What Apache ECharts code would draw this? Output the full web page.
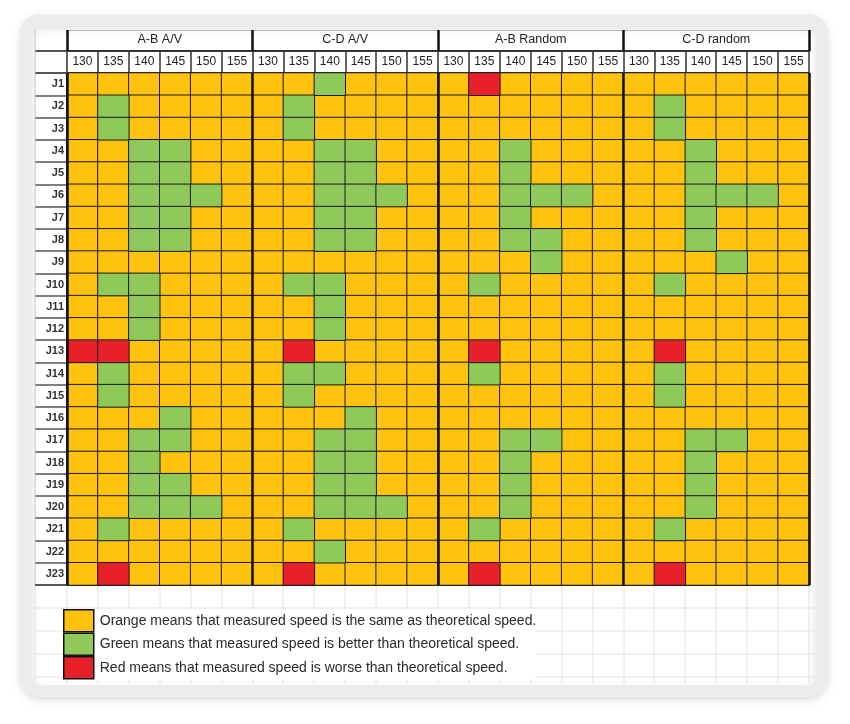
<!DOCTYPE html>
<html>
<head>
<meta charset="utf-8">
<script src="https://cdn.jsdelivr.net/npm/echarts@6/dist/echarts.min.js"></script>
<style>
  html, body { margin: 0; padding: 0; background: #fff; }
  #main { width: 850px; height: 724px; }
</style>
</head>
<body>
<div id="main"></div>
<script>
/*表头与行名*/
var speeds = ['130', '135', '140', '145', '150', '155'];
var groups = ['A-B A/V', 'C-D A/V', 'A-B Random', 'C-D random'];
var rows = ['J1', 'J2', 'J3', 'J4', 'J5', 'J6', 'J7', 'J8', 'J9', 'J10', 'J11', 'J12',
  'J13', 'J14', 'J15', 'J16', 'J17', 'J18', 'J19', 'J20', 'J21', 'J22', 'J23'];
// 0 = orange(same), 1 = green(better), 2 = red(worse)
var statusNames = [
  'Orange means that measured speed is the same as theoretical speed.',
  'Green means that measured speed is better than theoretical speed.',
  'Red means that measured speed is worse than theoretical speed.'
];
var statusColors = ['#FFC20E', '#8FC95A', '#E8202A'];

/*每组 23 行 x 6 个速度*/
var abAV = [
  [0,0,0,0,0,0],[0,1,0,0,0,0],[0,1,0,0,0,0],[0,0,1,1,0,0],[0,0,1,1,0,0],[0,0,1,1,1,0],
  [0,0,1,1,0,0],[0,0,1,1,0,0],[0,0,0,0,0,0],[0,1,1,0,0,0],[0,0,1,0,0,0],[0,0,1,0,0,0],
  [2,2,0,0,0,0],[0,1,0,0,0,0],[0,1,0,0,0,0],[0,0,0,1,0,0],[0,0,1,1,0,0],[0,0,1,0,0,0],
  [0,0,1,1,0,0],[0,0,1,1,1,0],[0,1,0,0,0,0],[0,0,0,0,0,0],[0,2,0,0,0,0]
];
var cdAV = [
  [0,0,1,0,0,0],[0,1,0,0,0,0],[0,1,0,0,0,0],[0,0,1,1,0,0],[0,0,1,1,0,0],[0,0,1,1,1,0],
  [0,0,1,1,0,0],[0,0,1,1,0,0],[0,0,0,0,0,0],[0,1,1,0,0,0],[0,0,1,0,0,0],[0,0,1,0,0,0],
  [0,2,0,0,0,0],[0,1,1,0,0,0],[0,1,0,0,0,0],[0,0,0,1,0,0],[0,0,1,1,0,0],[0,0,1,1,0,0],
  [0,0,1,1,0,0],[0,0,1,1,1,0],[0,1,0,0,0,0],[0,0,1,0,0,0],[0,2,0,0,0,0]
];
var abRandom = [
  [0,2,0,0,0,0],[0,0,0,0,0,0],[0,0,0,0,0,0],[0,0,1,0,0,0],[0,0,1,0,0,0],[0,0,1,1,1,0],
  [0,0,1,0,0,0],[0,0,1,1,0,0],[0,0,0,1,0,0],[0,1,0,0,0,0],[0,0,0,0,0,0],[0,0,0,0,0,0],
  [0,2,0,0,0,0],[0,1,0,0,0,0],[0,0,0,0,0,0],[0,0,0,0,0,0],[0,0,1,1,0,0],[0,0,1,0,0,0],
  [0,0,1,0,0,0],[0,0,1,0,0,0],[0,1,0,0,0,0],[0,0,0,0,0,0],[0,2,0,0,0,0]
];
var cdRandom = [
  [0,0,0,0,0,0],[0,1,0,0,0,0],[0,1,0,0,0,0],[0,0,1,0,0,0],[0,0,1,0,0,0],[0,0,1,1,1,0],
  [0,0,1,0,0,0],[0,0,1,0,0,0],[0,0,0,1,0,0],[0,1,0,0,0,0],[0,0,0,0,0,0],[0,0,0,0,0,0],
  [0,2,0,0,0,0],[0,1,0,0,0,0],[0,1,0,0,0,0],[0,0,0,0,0,0],[0,0,1,1,0,0],[0,0,1,0,0,0],
  [0,0,1,0,0,0],[0,0,1,0,0,0],[0,1,0,0,0,0],[0,0,0,0,0,0],[0,2,0,0,0,0]
];
var groupData = [abAV, cdAV, abRandom, cdRandom];

/*布局常量*/
var gLeft = 67, gRight = 809, gTop = 73, gBottom = 585;
var tblLeft = 35;
var cw = (gRight - gLeft) / 24;

var cols = [];
for (var g = 0; g < groups.length; g++) {
  for (var s = 0; s < speeds.length; s++) cols.push(String(g * 6 + s));
}

//按状态拆成三组数据
var seriesData = [[], [], []];
for (var g = 0; g < groupData.length; g++) {
  for (var r = 0; r < rows.length; r++) {
    for (var s = 0; s < speeds.length; s++) {
      var st = groupData[g][r][s];
      seriesData[st].push([g * 6 + s, r, st]);
    }
  }
}

var graphics = [];
// outer frame
graphics.push({
  type: 'rect', z: -10,
  shape: { x: 26, y: 20, width: 796, height: 671, r: 14 },
  style: { fill: '#fff', stroke: '#ececec', lineWidth: 12, shadowBlur: 10, shadowOffsetY: 3, shadowColor: 'rgba(0,0,0,0.12)' }
});
// label column header lines + left border
graphics.push({ type: 'line', z: 5, shape: { x1: tblLeft, y1: 51, x2: gLeft, y2: 51 }, style: { stroke: '#555', lineWidth: 2 } });
graphics.push({ type: 'line', z: 5, shape: { x1: tblLeft, y1: 73, x2: gLeft, y2: 73 }, style: { stroke: '#555', lineWidth: 2 } });
graphics.push({ type: 'line', z: 5, shape: { x1: tblLeft, y1: 30, x2: tblLeft, y2: gBottom }, style: { stroke: '#c8c8c8', lineWidth: 1 } });
graphics.push({ type: 'line', z: 5, shape: { x1: tblLeft, y1: gBottom, x2: gLeft, y2: gBottom }, style: { stroke: '#555', lineWidth: 2 } });
// faint sheet grid below the table
var sheetRows = [608, 631, 654, 677];
for (var i = 0; i < sheetRows.length; i++) {
  graphics.push({ type: 'line', z: -5, shape: { x1: tblLeft, y1: sheetRows[i], x2: 815, y2: sheetRows[i] }, style: { stroke: '#e2e2e2', lineWidth: 1 } });
}
var vx = [tblLeft, gLeft];
for (var i = 1; i <= 24; i++) vx.push(Math.round(gLeft + i * cw));
for (var i = 0; i < vx.length; i++) {
  graphics.push({ type: 'line', z: -5, shape: { x1: vx[i], y1: gBottom, x2: vx[i], y2: 683 }, style: { stroke: '#e2e2e2', lineWidth: 1 } });
}

var font = 'Liberation Sans, Arial, sans-serif';

var option = {
  backgroundColor: '#fff',
  animation: false,
  graphic: graphics,
  grid: { left: gLeft, right: 850 - gRight, top: gTop, bottom: 724 - gBottom },
  legend: {
    orient: 'vertical',
    left: 63, top: 609,
    padding: 0,
    backgroundColor: '#fff',
    itemWidth: 30, itemHeight: 22, itemGap: 0,
    icon: 'rect',
    selectedMode: false,
    itemStyle: { borderColor: '#111', borderWidth: 1.5 },
    textStyle: { fontFamily: font, fontSize: 14, color: '#2a2a2a', padding: [0, 0, 0, 1] },
    data: statusNames
  },
  xAxis: [
    { // main grid / bottom border
      type: 'category', data: cols, position: 'bottom',
      axisLine: { show: true, lineStyle: { color: '#111', width: 2 } },
      axisTick: { show: false }, axisLabel: { show: false }, splitLine: { show: false }
    },
    { // speed row
      type: 'category', data: cols, position: 'top',
      axisLine: { show: true, lineStyle: { color: '#222', width: 2 } },
      axisTick: { show: true, length: 22, lineStyle: { color: '#333', width: 1.5 } },
      axisLabel: {
        margin: 5, fontFamily: font, fontSize: 12, color: '#222',
        formatter: function (v) { return speeds[Number(v) % 6]; }
      },
      splitLine: { show: false }
    },
    { // group row
      type: 'category', data: groups, position: 'top', offset: 22, z: 10,
      axisLine: { show: true, lineStyle: { color: '#333', width: 2 } },
      axisTick: { show: true, length: 21, lineStyle: { color: '#111', width: 2.5 } },
      axisLabel: { margin: 5, fontFamily: font, fontSize: 12.5, color: '#222' },
      splitLine: { show: true, lineStyle: { color: '#111', width: 2.5 } }
    },
    { // top border
      type: 'category', data: groups, position: 'top', offset: 43,
      axisLine: { show: true, lineStyle: { color: '#bbb', width: 1 } },
      axisTick: { show: false }, axisLabel: { show: false }, splitLine: { show: false }
    }
  ],
  yAxis: {
    type: 'category', data: rows, inverse: true,
    axisLine: { show: true, lineStyle: { color: '#111', width: 2 } },
    axisTick: { show: true, length: 32, lineStyle: { color: '#555', width: 1.5 } },
    axisLabel: { margin: 3, fontFamily: font, fontSize: 11, fontWeight: 'bold', color: '#333' },
    splitLine: { show: false }
  },
  series: statusNames.map(function (name, k) {
    return {
      name: name,
      type: 'heatmap',
      xAxisIndex: 0,
      yAxisIndex: 0,
      data: seriesData[k],
      itemStyle: { color: statusColors[k], borderColor: '#1b1b1b', borderWidth: 1 },
      emphasis: { disabled: true }
    };
  })
};

var chart = echarts.init(document.getElementById('main'));
chart.setOption(option);
</script>
</body>
</html>
